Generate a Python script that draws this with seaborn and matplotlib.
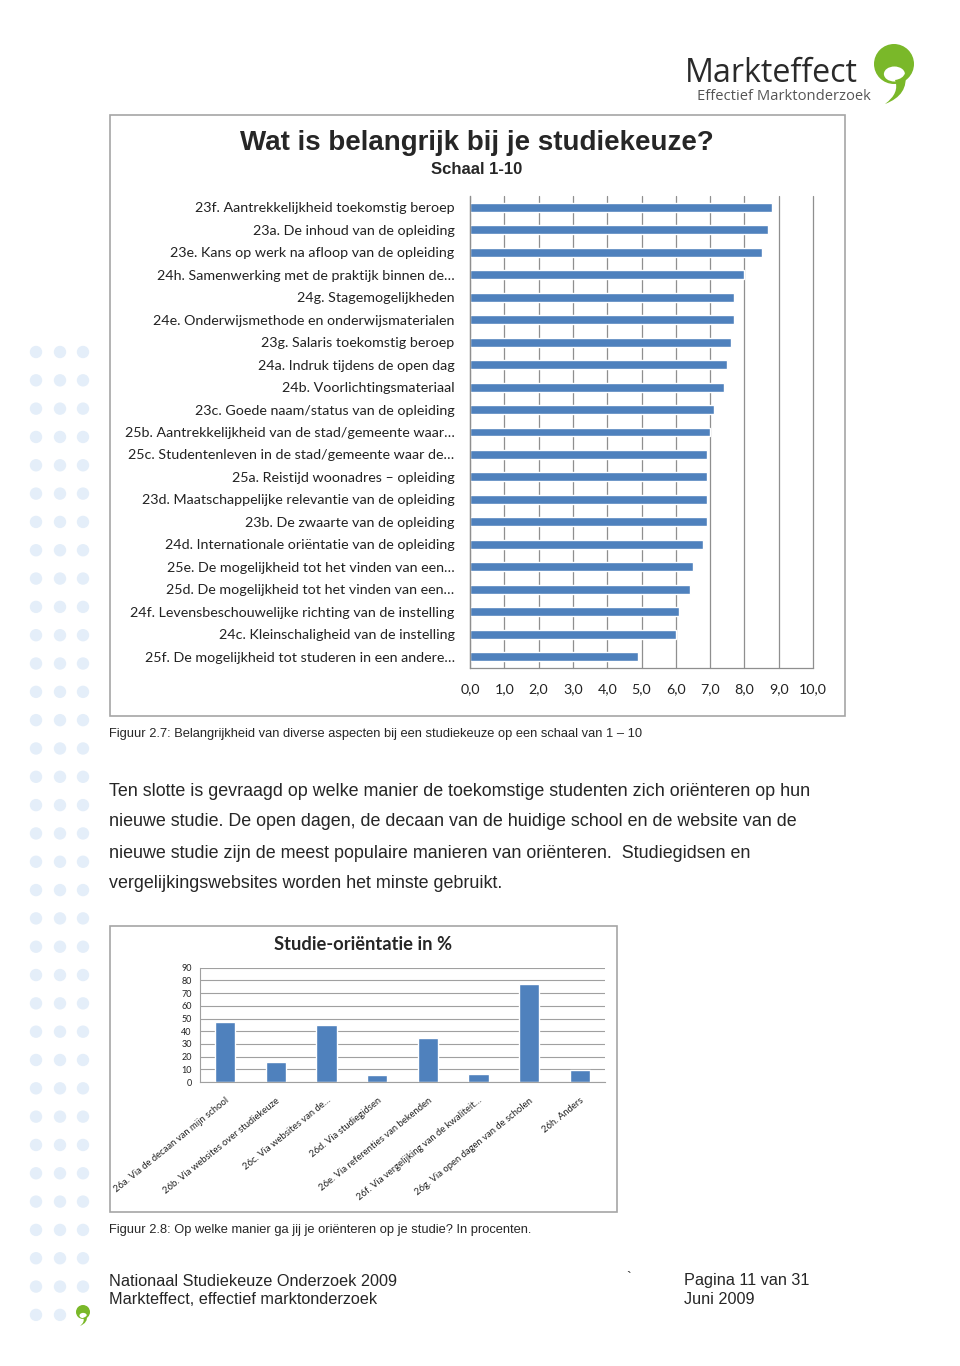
import numpy as np
import pandas as pd
import matplotlib
matplotlib.use("Agg")
import matplotlib.pyplot as plt
import seaborn as sns
from matplotlib.patches import Circle, Rectangle, Ellipse, PathPatch
from matplotlib.path import Path
from matplotlib.ticker import FixedLocator

# ---------------- data ----------------
criteria = [
    "23f. Aantrekkelijkheid toekomstig beroep",
    "23a. De inhoud van de opleiding",
    "23e. Kans op werk na afloop van de opleiding",
    "24h. Samenwerking met de praktijk binnen de…",
    "24g. Stagemogelijkheden",
    "24e. Onderwijsmethode en onderwijsmaterialen",
    "23g. Salaris toekomstig beroep",
    "24a. Indruk tijdens de open dag",
    "24b. Voorlichtingsmateriaal",
    "23c. Goede naam/status van de opleiding",
    "25b. Aantrekkelijkheid van de stad/gemeente waar…",
    "25c. Studentenleven in de stad/gemeente waar de…",
    "25a. Reistijd woonadres – opleiding",
    "23d. Maatschappelijke relevantie van de opleiding",
    "23b. De zwaarte van de opleiding",
    "24d. Internationale oriëntatie van de opleiding",
    "25e. De mogelijkheid tot het vinden van een…",
    "25d. De mogelijkheid tot het vinden van een…",
    "24f. Levensbeschouwelijke richting van de instelling",
    "24c. Kleinschaligheid van de instelling",
    "25f. De mogelijkheid tot studeren in een andere…",
]
scores = [8.8, 8.7, 8.5, 8.0, 7.7, 7.7, 7.6, 7.5, 7.4, 7.1, 7.0,
          6.9, 6.9, 6.9, 6.9, 6.8, 6.5, 6.4, 6.1, 6.0, 4.9]
score_ticks = [0, 1, 2, 3, 4, 5, 6, 7, 8, 9, 10]
score_tick_labels = ["0,0", "1,0", "2,0", "3,0", "4,0", "5,0",
                     "6,0", "7,0", "8,0", "9,0", "10,0"]

channels = [
    "26a. Via de decaan van mijn school",
    "26b. Via websites over studiekeuze",
    "26c. Via websites van de…",
    "26d. Via studiegidsen",
    "26e. Via referenties van bekenden",
    "26f. Via vergelijking van de kwaliteit…",
    "26g. Via open dagen van de scholen",
    "26h. Anders",
]
percent = [47.6, 15.7, 44.8, 5.8, 34.6, 6.0, 77.2, 9.2]
percent_ticks = [0, 10, 20, 30, 40, 50, 60, 70, 80, 90]

paragraph = [
    "Ten slotte is gevraagd op welke manier de toekomstige studenten zich oriënteren op hun",
    "nieuwe studie. De open dagen, de decaan van de huidige school en de website van de",
    "nieuwe studie zijn de meest populaire manieren van oriënteren.  Studiegidsen en",
    "vergelijkingswebsites worden het minste gebruikt.",
]

# ---------------- style ----------------
sns.set_style("white")
plt.rcParams['font.family'] = ['Liberation Sans', 'DejaVu Sans']
BLUE = '#4f81bd'
GRID = '#8f8f8f'
CAL = ['Lato', 'DejaVu Sans']

W, H = 960, 1366
fig = plt.figure(figsize=(W / 100, H / 100), dpi=100)
fig.patch.set_facecolor('white')

bg = fig.add_axes([0, 0, 1, 1])
bg.set_xlim(0, W)
bg.set_ylim(H, 0)
bg.axis('off')
bg.set_zorder(0)


def place(left, top, right, bottom):
    return fig.add_axes([left / W, 1 - bottom / H, (right - left) / W, (bottom - top) / H])


# decorative dots on the left
for r in range(35):
    yy = 352 + r * 28.32
    for c, xx in enumerate([36, 60, 83]):
        if r == 34 and c == 2:
            continue
        bg.add_patch(Circle((xx, yy), 6.2, color='#e4eef9', lw=0))


def logo(cx, cy, s):
    # green disk with a white notch and a curved green tail
    green = '#7ab829'
    bg.add_patch(Circle((cx, cy), s, color=green, lw=0))
    bg.add_patch(Ellipse((cx + 0.02 * s, cy + 0.5 * s), 1.05 * s, 0.75 * s, color='white', lw=0))
    verts = [(cx + 0.05 * s, cy + 0.8 * s),
             (cx + 0.45 * s, cy + 0.75 * s), (cx + 0.56 * s, cy + 0.45 * s),
             (cx + 0.75 * s, cy + 1.55 * s), (cx - 0.45 * s, cy + 2.0 * s),
             (cx + 0.3 * s, cy + 1.45 * s), (cx + 0.05 * s, cy + 0.8 * s),
             (cx + 0.05 * s, cy + 0.8 * s)]
    codes = [Path.MOVETO, Path.CURVE3, Path.CURVE3, Path.CURVE3, Path.CURVE3,
             Path.CURVE3, Path.CURVE3, Path.CLOSEPOLY]
    bg.add_patch(PathPatch(Path(verts, codes), facecolor=green, edgecolor='none'))


logo(894, 64, 20)
logo(83, 1312, 7)
bg.text(685, 73, "Markteffect", fontsize=23.2, color='#2a2a2a', family=['Open Sans', 'DejaVu Sans'],
        ha='left', va='center')
bg.text(697, 96, "Effectief Marktonderzoek", fontsize=10.6, color='#555555',
        family=['Open Sans', 'DejaVu Sans'], ha='left', va='center')

# chart boxes
bg.add_patch(Rectangle((110, 115), 735, 601, facecolor='white', edgecolor='#a5a5a5', lw=1.2))
bg.add_patch(Rectangle((110, 926), 507, 286, facecolor='white', edgecolor='#a5a5a5', lw=1.2))

# ---------------- chart 1 ----------------
bg.text(477, 143, "Wat is belangrijk bij je studiekeuze?", fontsize=20, fontweight='bold',
        ha='center', va='center')
bg.text(477, 169, "Schaal 1-10", fontsize=12, fontweight='bold', ha='center', va='center')

ax1 = place(470, 196, 813, 668)
ax1.set_zorder(2)
ax1.patch.set_alpha(0)
df1 = pd.DataFrame({"criterium": criteria, "score": scores})
sns.barplot(data=df1, x="score", y="criterium", orient='h', color=BLUE, saturation=1,
            width=0.4, ax=ax1)
ax1.set_xlim(0, 10)
ax1.set_ylim(len(criteria) - 0.5, -0.5)
ax1.set_xticks(score_ticks)
ax1.set_xticklabels(score_tick_labels, family=CAL, fontsize=10.3, color='#222222')
ax1.set_yticks(range(len(criteria)))
ax1.set_yticklabels(criteria, family=CAL, fontsize=10.3, color='#222222')
ax1.set_xlabel('')
ax1.set_ylabel('')
ax1.xaxis.grid(True, color=GRID, lw=0.9)
for gl in ax1.get_xgridlines():
    gl.set_clip_on(False)
ax1.yaxis.grid(False)
ax1.set_axisbelow(True)
for s in ['top', 'right']:
    ax1.spines[s].set_visible(False)
for s in ['left', 'bottom']:
    ax1.spines[s].set_color(GRID)
    ax1.spines[s].set_linewidth(0.9)
ax1.tick_params(axis='x', which='major', length=4, color=GRID, pad=7)
ax1.tick_params(axis='y', which='major', length=0, pad=11)
ax1.yaxis.set_minor_locator(FixedLocator(np.arange(-0.5, len(criteria), 1)))
ax1.tick_params(axis='y', which='minor', length=5, color=GRID, width=0.9)

# ---------------- chart 2 ----------------
bg.text(363, 945, "Studie-oriëntatie in %", fontsize=13.2, fontweight='bold', family=CAL,
        ha='center', va='center')
ax2 = place(200, 967.7, 605, 1082)
ax2.set_zorder(2)
ax2.patch.set_alpha(0)
df2 = pd.DataFrame({"kanaal": channels, "pct": percent})
sns.barplot(data=df2, x="kanaal", y="pct", color=BLUE, saturation=1, width=0.4, ax=ax2)
ax2.set_ylim(0, 90)
ax2.set_xlim(-0.5, len(channels) - 0.5)
ax2.set_yticks(percent_ticks)
ax2.set_yticklabels([str(v) for v in percent_ticks], family=CAL, fontsize=6.5, color='#222222')
ax2.set_xticks(range(len(channels)))
ax2.set_xticklabels(channels, family=CAL, fontsize=6.8, rotation=39, ha='right',
                    rotation_mode='anchor', color='#222222')
ax2.set_xlabel('')
ax2.set_ylabel('')
ax2.yaxis.grid(True, color='#a0a0a0', lw=0.8)
ax2.xaxis.grid(False)
ax2.set_axisbelow(True)
for s in ['top', 'right']:
    ax2.spines[s].set_visible(False)
for s in ['left', 'bottom']:
    ax2.spines[s].set_color('#a0a0a0')
    ax2.spines[s].set_linewidth(0.8)
ax2.tick_params(axis='y', which='major', length=3, color='#a0a0a0', pad=3)
ax2.tick_params(axis='x', which='major', length=0, pad=10)
ax2.xaxis.set_minor_locator(FixedLocator(np.arange(-0.5, len(channels), 1)))
ax2.tick_params(axis='x', which='minor', length=4, color='#a0a0a0', width=0.8)

# ---------------- page text ----------------
bg.text(109, 734, "Figuur 2.7: Belangrijkheid van diverse aspecten bij een studiekeuze op een schaal van 1 – 10",
        fontsize=9.3, ha='left', va='center')
for i, line in enumerate(paragraph):
    bg.text(109, 791 + i * 31, line, fontsize=12.9, ha='left', va='center')
bg.text(109, 1230, "Figuur 2.8: Op welke manier ga jij je oriënteren op je studie? In procenten.",
        fontsize=9.3, ha='left', va='center')

bg.text(109, 1281, "Nationaal Studiekeuze Onderzoek 2009", fontsize=11.7, ha='left', va='center')
bg.text(109, 1300, "Markteffect, effectief marktonderzoek", fontsize=11.7, ha='left', va='center')
bg.text(626, 1278, "`", fontsize=10, ha='left', va='center')
bg.text(684, 1281, "Pagina 11 van 31", fontsize=11.7, ha='left', va='center')
bg.text(684, 1300, "Juni 2009", fontsize=11.7, ha='left', va='center')

fig.savefig("out.png", dpi=100, facecolor='white')
